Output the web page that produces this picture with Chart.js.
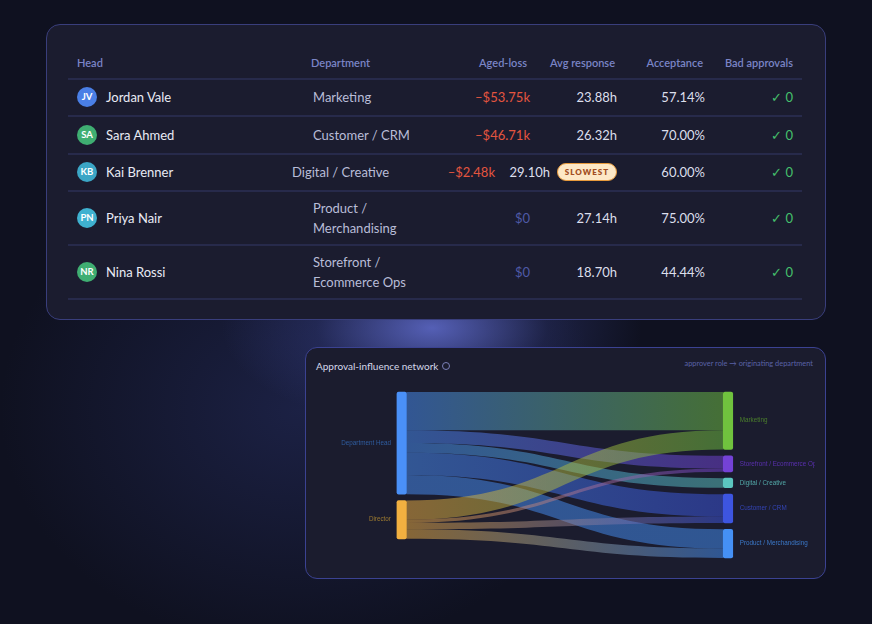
<!DOCTYPE html>
<html>
<head>
<meta charset="utf-8">
<script src="https://cdn.jsdelivr.net/npm/chart.js@4.4.1/dist/chart.umd.min.js"></script>
<style>
  html, body { margin: 0; padding: 0; }
  body {
    width: 872px; height: 624px; overflow: hidden; position: relative;
    background: #0f1120; font-family: Lato, "Open Sans", sans-serif;
  }
  .glow {
    position: absolute; left: 0; top: 0; width: 872px; height: 624px;
    background:
      radial-gradient(ellipse 210px 100px at 432px 328px, rgba(96,108,205,0.85), rgba(60,70,150,0.3) 55%, rgba(0,0,0,0) 100%),
      radial-gradient(ellipse 300px 240px at 300px 410px, rgba(38,46,98,0.55), rgba(0,0,0,0) 100%);
  }
  .card { position: absolute; background: #1b1c2f; border: 1px solid #393e7c; box-sizing: border-box; }
  #tableCard { left: 46px; top: 24px; width: 780px; height: 296px; border-radius: 14px; }
  #sankeyCard { left: 305px; top: 347px; width: 521px; height: 232px; border-radius: 12px; border-color: #3b4292; background: #1b1c2e; }
  .cell { position: absolute; height: 20px; line-height: 20px; white-space: nowrap; font-size: 13px; }
  .hdr { font-size: 11px; font-weight: 600; color: #7a84c6; }
  .rule { position: absolute; left: 68px; width: 734px; height: 2px; background: #272a4b; }
  .avatar {
    position: absolute; width: 20px; height: 20px; border-radius: 50%;
    color: #fff; font-size: 9.5px; font-weight: 700; text-align: center; line-height: 20px;
  }
  .badge {
    position: absolute; width: 58px; height: 16px; line-height: 16px; border-radius: 9px;
    background: #fde8c6; border: 1px solid #e79a3c; color: #a24e22;
    font-size: 8px; font-weight: 800; letter-spacing: 1px; text-align: center; box-sizing: content-box;
  }
  #chartTitle { position: absolute; left: 316px; top: 358px; font-size: 10px; color: #d5d8ea; line-height: 16px; }
  #chartTitle .info {
    display: inline-block; width: 6px; height: 6px; border: 1px solid #7a80b8; border-radius: 50%;
    margin-left: 4px; vertical-align: 0px;
  }
  #chartNote { position: absolute; right: 59px; top: 358px; font-size: 7.4px; color: #5a62a6; line-height: 12px; }
  #sankey { position: absolute; left: 306px; top: 348px; }
</style>
</head>
<body>
<div class="glow"></div>
<div class="card" id="tableCard"></div>
<div class="card" id="sankeyCard"></div>
<div id="chartTitle">Approval-influence network<span class="info"></span></div>
<div id="chartNote">approver role → originating department</div>
<canvas id="sankey" width="509" height="230" style="width:509px;height:230px"></canvas>

<script>
// --- Table data ---
const headNames = ['Jordan Vale', 'Sara Ahmed', 'Kai Brenner', 'Priya Nair', 'Nina Rossi'];
const headInitials = ['JV', 'SA', 'KB', 'PN', 'NR'];
const departments = [['Marketing'], ['Customer / CRM'], ['Digital / Creative'], ['Product /', 'Merchandising'], ['Storefront /', 'Ecommerce Ops']];
const agedLoss = [-53.75, -46.71, -2.48, 0, 0];
const avgResponse = [23.88, 26.32, 29.10, 27.14, 18.70];
const acceptance = [57.14, 70.00, 60.00, 75.00, 44.44];
const badApprovals = [0, 0, 0, 0, 0];
const columnHeaders = ['Head', 'Department', 'Aged-loss', 'Avg response', 'Acceptance', 'Bad approvals'];

// --- Sankey data (approver role -> originating department) ---
const sourceNodes = ['Department Head', 'Director'];
const targetNodes = ['Marketing', 'Storefront / Ecommerce Ops', 'Digital / Creative', 'Customer / CRM', 'Product / Merchandising'];
const flowFrom = [0, 0, 0, 0, 0, 1, 1, 1, 1];
const flowTo = [0, 1, 2, 3, 4, 0, 1, 3, 4];
const flowValues = [12, 4, 3, 7, 6, 6, 1, 2, 3];

// styles
const avatarColors = ['#4a7fe6', '#3fae72', '#3ba6c6', '#3fb1d0', '#3fae72'];
const sourceColors = ['#4a90f8', '#f2b040'];
const targetColors = ['#70c23e', '#7442d6', '#5cc6c0', '#3d55e0', '#4590f5'];
const sourceLabelColors = ['#2f5da0', '#9c7a30'];
const targetLabelColors = ['#4b7f2c', '#5a30b0', '#52a8a8', '#3344b5', '#3b78c8'];

// --- Build table ---
const rowCenters = [97, 135, 172, 218, 272];
const ruleYs = [78, 115, 153, 190, 244, 298];

function addCell(text, opts) {
  const d = document.createElement('div');
  d.className = 'cell' + (opts.cls ? ' ' + opts.cls : '');
  d.textContent = text;
  d.style.top = (opts.y - 10) + 'px';
  if (opts.left !== undefined) d.style.left = opts.left + 'px';
  if (opts.right !== undefined) { d.style.right = (872 - opts.right) + 'px'; d.style.textAlign = 'right'; }
  if (opts.color) d.style.color = opts.color;
  document.body.appendChild(d);
  return d;
}

const hdrPos = [{ left: 77 }, { left: 311 }, { right: 527 }, { right: 615 }, { right: 703 }, { right: 793 }];
columnHeaders.forEach((h, i) => addCell(h, Object.assign({ y: 63, cls: 'hdr' }, hdrPos[i])));

ruleYs.forEach(y => {
  const r = document.createElement('div');
  r.className = 'rule';
  r.style.top = y + 'px';
  document.body.appendChild(r);
});

const fmtLoss = v => v === 0 ? '$0' : '–$' + Math.abs(v).toFixed(2) + 'k';
const slowest = avgResponse.indexOf(Math.max(...avgResponse));

headNames.forEach((name, i) => {
  const y = rowCenters[i];
  const av = document.createElement('div');
  av.className = 'avatar';
  av.textContent = headInitials[i];
  av.style.left = '77px';
  av.style.top = (y - 10) + 'px';
  av.style.background = avatarColors[i];
  document.body.appendChild(av);

  addCell(name, { y: y, left: 106, color: '#e9ebf5' });

  const deptLeft = i === slowest ? 292 : 313;
  const lines = departments[i];
  lines.forEach((ln, k) => {
    addCell(ln, { y: y + (k - (lines.length - 1) / 2) * 20, left: deptLeft, color: '#b9bdd8' });
  });

  const lossRight = i === slowest ? 495 : 530;
  addCell(fmtLoss(agedLoss[i]), { y: y, right: lossRight, color: agedLoss[i] < 0 ? '#e4553f' : '#4f5aa6' });

  if (i === slowest) {
    addCell(avgResponse[i].toFixed(2) + 'h', { y: y, right: 550, color: '#dcdfec' });
    const b = document.createElement('div');
    b.className = 'badge';
    b.textContent = 'SLOWEST';
    b.style.left = '557px';
    b.style.top = (y - 9) + 'px';
    document.body.appendChild(b);
  } else {
    addCell(avgResponse[i].toFixed(2) + 'h', { y: y, right: 617, color: '#dcdfec' });
  }

  addCell(acceptance[i].toFixed(2) + '%', { y: y, right: 705, color: '#dcdfec' });
  addCell('✓ ' + badApprovals[i], { y: y, right: 793, color: '#45c06c' });
});

// --- Sankey layout (in value units) ---
const gapUnits = 2;
const nodeWidth = 9.5;
const srcTotals = sourceNodes.map((_, s) => flowValues.reduce((a, v, k) => a + (flowFrom[k] === s ? v : 0), 0));
const tgtTotals = targetNodes.map((_, t) => flowValues.reduce((a, v, k) => a + (flowTo[k] === t ? v : 0), 0));

function stack(totals) {
  let acc = 0;
  return totals.map(v => { const s = acc; acc += v + gapUnits; return s; });
}
const srcStart = stack(srcTotals);
const tgtStart = stack(tgtTotals);
const yMax = Math.max(
  srcTotals.reduce((a, b) => a + b, 0) + (srcTotals.length - 1) * gapUnits,
  tgtTotals.reduce((a, b) => a + b, 0) + (tgtTotals.length - 1) * gapUnits
);

// offsets of each flow at its source and target
const flowSrcY = [], flowTgtY = [];
{
  const sOff = srcStart.slice(), tOff = tgtStart.slice();
  const bySrc = flowValues.map((_, k) => k).sort((a, b) => flowFrom[a] - flowFrom[b] || flowTo[a] - flowTo[b]);
  bySrc.forEach(k => { flowSrcY[k] = sOff[flowFrom[k]]; sOff[flowFrom[k]] += flowValues[k]; });
  const byTgt = flowValues.map((_, k) => k).sort((a, b) => flowTo[a] - flowTo[b] || flowFrom[a] - flowFrom[b]);
  byTgt.forEach(k => { flowTgtY[k] = tOff[flowTo[k]]; tOff[flowTo[k]] += flowValues[k]; });
}

const nodeData = [];
const nodeColors = [];
sourceNodes.forEach((_, s) => { nodeData.push({ x: 0, y: [srcStart[s], srcStart[s] + srcTotals[s]] }); nodeColors.push(sourceColors[s]); });
targetNodes.forEach((_, t) => { nodeData.push({ x: 1, y: [tgtStart[t], tgtStart[t] + tgtTotals[t]] }); nodeColors.push(targetColors[t]); });

function hexA(hex, a) {
  const n = parseInt(hex.slice(1), 16);
  return `rgba(${n >> 16},${(n >> 8) & 255},${n & 255},${a})`;
}

const sankeyPlugin = {
  id: 'sankeyFlows',
  beforeDatasetsDraw(chart) {
    const { ctx, scales: { x, y } } = chart;
    const x0 = x.getPixelForValue(0) + nodeWidth / 2;
    const x1 = x.getPixelForValue(1) - nodeWidth / 2;
    const xm = (x0 + x1) / 2;
    ctx.save();
    flowValues.forEach((v, k) => {
      const ya0 = y.getPixelForValue(flowSrcY[k]);
      const ya1 = y.getPixelForValue(flowSrcY[k] + v);
      const yb0 = y.getPixelForValue(flowTgtY[k]);
      const yb1 = y.getPixelForValue(flowTgtY[k] + v);
      const g = ctx.createLinearGradient(x0, 0, x1, 0);
      g.addColorStop(0, hexA(sourceColors[flowFrom[k]], 0.5));
      g.addColorStop(1, hexA(targetColors[flowTo[k]], 0.5));
      ctx.beginPath();
      ctx.moveTo(x0, ya0);
      ctx.bezierCurveTo(xm, ya0, xm, yb0, x1, yb0);
      ctx.lineTo(x1, yb1);
      ctx.bezierCurveTo(xm, yb1, xm, ya1, x0, ya1);
      ctx.closePath();
      ctx.fillStyle = g;
      ctx.fill();
    });
    ctx.restore();
  },
  afterDatasetsDraw(chart) {
    const { ctx, scales: { x, y } } = chart;
    ctx.save();
    ctx.font = '6.3px "Liberation Sans", Arial, sans-serif';
    ctx.textBaseline = 'middle';
    ctx.textAlign = 'right';
    sourceNodes.forEach((name, s) => {
      ctx.fillStyle = sourceLabelColors[s];
      ctx.fillText(name, x.getPixelForValue(0) - nodeWidth / 2 - 6, y.getPixelForValue(srcStart[s] + srcTotals[s] / 2));
    });
    ctx.textAlign = 'left';
    targetNodes.forEach((name, t) => {
      ctx.fillStyle = targetLabelColors[t];
      ctx.fillText(name, x.getPixelForValue(1) + nodeWidth / 2 + 7, y.getPixelForValue(tgtStart[t] + tgtTotals[t] / 2));
    });
    ctx.restore();
  }
};

new Chart(document.getElementById('sankey'), {
  type: 'bar',
  data: {
    datasets: [{
      data: nodeData,
      backgroundColor: nodeColors,
      borderRadius: 2,
      borderSkipped: false,
      barThickness: nodeWidth,
      grouped: false,
      clip: false
    }]
  },
  options: {
    responsive: false,
    animation: false,
    layout: { padding: { left: 95.7, right: 87, top: 44, bottom: 20 } },
    plugins: { legend: { display: false }, tooltip: { enabled: false } },
    scales: {
      x: { type: 'linear', min: 0, max: 1, display: false, offset: false },
      y: { type: 'linear', min: 0, max: yMax, reverse: true, display: false }
    }
  },
  plugins: [sankeyPlugin]
});
</script>
</body>
</html>
